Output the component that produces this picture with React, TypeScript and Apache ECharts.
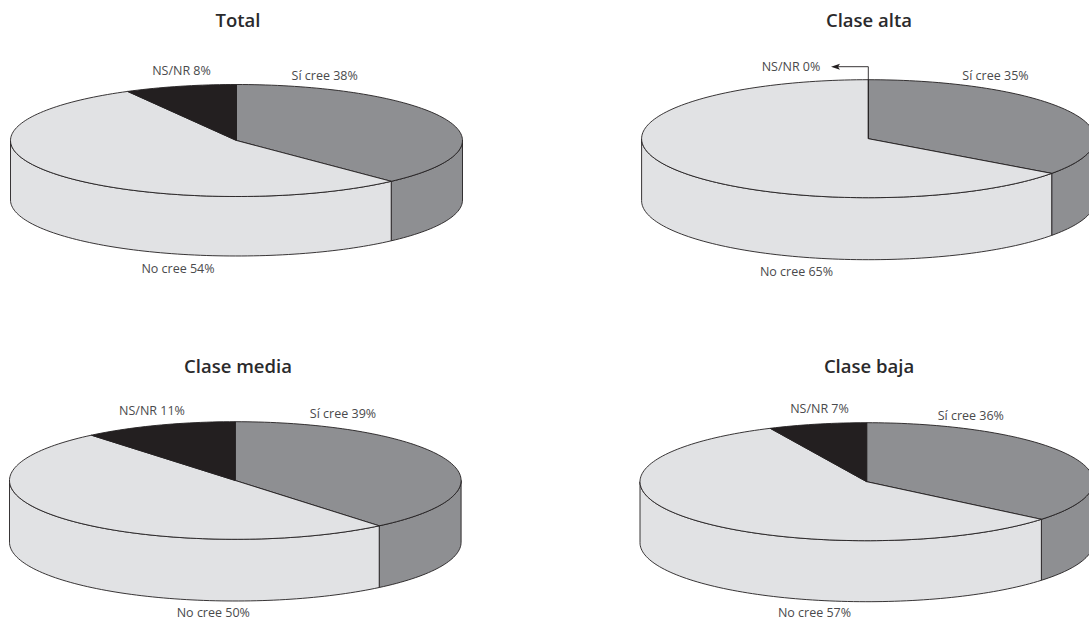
import React, { useEffect, useRef } from "react";
import * as echarts from "echarts";

const titles = ["Total", "Clase alta", "Clase media", "Clase baja"];
const sliceNames = ["Sí cree", "No cree", "NS/NR"];
const totalValues = [38, 54, 8];
const altaValues = [35, 65, 0];
const mediaValues = [39, 50, 11];
const bajaValues = [36, 57, 7];
const sliceColors = ["#8e8f92", "#e1e2e4", "#231f20"];

const INK = "#231f20";
const LABEL_COLOR = "#4a4a4c";
const FONT = '"Open Sans", "Noto Sans", sans-serif';

// Disc geometry and label anchors for each panel; label order follows sliceNames.
const panels = [
  { values: totalValues, cx: 236.5, cy: 140.5, rx: 226, ry: 56, depth: 59.5, titleX: 238, titleY: 20,
    labels: [[324.7, 75.5], [178, 268], [181.5, 70]] },
  { values: altaValues, cx: 868.3, cy: 138.7, rx: 226.7, ry: 59, depth: 62, titleX: 869, titleY: 20,
    labels: [[995.5, 75.5], [796.5, 271.7], [791, 66.7]] },
  { values: mediaValues, cx: 235.3, cy: 480.5, rx: 225.8, ry: 58.8, depth: 61.7, titleX: 238, titleY: 366,
    labels: [[343, 413.7], [213.3, 612.5], [152, 410.7]] },
  { values: bajaValues, cx: 866.7, cy: 481.7, rx: 226.7, ry: 59, depth: 61, titleX: 869, titleY: 366,
    labels: [[970.8, 415], [814.5, 612.5], [819.5, 408.7]] },
];

type Panel = (typeof panels)[number];

// Point on the disc rim; the angle runs clockwise from the top, in degrees.
const rim = (p: Panel, deg: number, drop = 0): number[] => {
  const t = (deg * Math.PI) / 180;
  return [p.cx + p.rx * Math.sin(t), p.cy - p.ry * Math.cos(t) + drop];
};

const arc = (p: Panel, from: number, to: number, drop = 0): number[][] => {
  const steps = Math.max(1, Math.ceil(Math.abs(to - from) / 1.5));
  const pts: number[][] = [];
  for (let i = 0; i <= steps; i++) pts.push(rim(p, from + ((to - from) * i) / steps, drop));
  return pts;
};

const makeSeries = (p: Panel) => {
  let running = 0;
  const data = p.values.map((v, i) => {
    const start = running;
    running += v;
    return { name: sliceNames[i], value: [start, running, v] };
  });
  return {
    type: "custom",
    coordinateSystem: "none",
    silent: true,
    clip: false,
    data,
    renderItem: (params: any, api: any) => {
      const i = params.dataIndex;
      const a = (api.value(0) / 100) * 360;
      const b = (api.value(1) / 100) * 360;
      const value = api.value(2);
      const style = { fill: sliceColors[i], stroke: INK, lineWidth: 0.9, lineJoin: "round" };
      const children: any[] = [];

      // The rim wall is only visible on the front half of the disc.
      const wallFrom = Math.max(a, 90);
      const wallTo = Math.min(b, 270);
      if (wallTo > wallFrom) {
        children.push({
          type: "polygon",
          shape: { points: [...arc(p, wallFrom, wallTo), ...arc(p, wallTo, wallFrom, p.depth)] },
          style,
        });
      }
      if (value > 0) {
        children.push({
          type: "polygon",
          shape: { points: [[p.cx, p.cy], ...arc(p, a, b)] },
          style,
        });
      }

      const [lx, ly] = p.labels[i];
      children.push({
        type: "text",
        x: lx,
        y: ly,
        style: {
          text: `${sliceNames[i]} ${value}%`,
          align: "center",
          verticalAlign: "middle",
          fill: LABEL_COLOR,
          font: `12.5px ${FONT}`,
        },
      });

      // An empty slice has no face to label, so a leader with an arrowhead points at its text.
      if (value === 0) {
        const tipX = lx + 40;
        children.push({
          type: "polyline",
          shape: { points: [[p.cx, p.cy], [p.cx, ly], [tipX + 6, ly]] },
          style: { fill: "none", stroke: INK, lineWidth: 0.9 },
        });
        children.push({
          type: "polygon",
          shape: { points: [[tipX, ly], [tipX + 9, ly - 3], [tipX + 7, ly], [tipX + 9, ly + 3]] },
          style: { fill: INK, stroke: "none" },
        });
      }
      return { type: "group", children };
    },
  };
};

export default function App() {
  const ref = useRef<HTMLDivElement>(null);
  useEffect(() => {
    document.body.style.margin = "0";
    document.body.style.overflow = "hidden";
    const chart = echarts.init(ref.current, undefined, { renderer: "svg" });
    chart.setOption({
      animation: false,
      backgroundColor: "#ffffff",
      title: panels.map((p, i) => ({
        text: titles[i],
        left: p.titleX,
        top: p.titleY - 10.5,
        padding: 0,
        textAlign: "center",
        textStyle: { color: "#2a2a2c", fontFamily: FONT, fontWeight: 600, fontSize: 18.5 },
      })),
      series: panels.map(makeSeries),
    });
    return () => chart.dispose();
  }, []);
  return <div ref={ref} style={{ width: 1089, height: 620 }} />;
}
